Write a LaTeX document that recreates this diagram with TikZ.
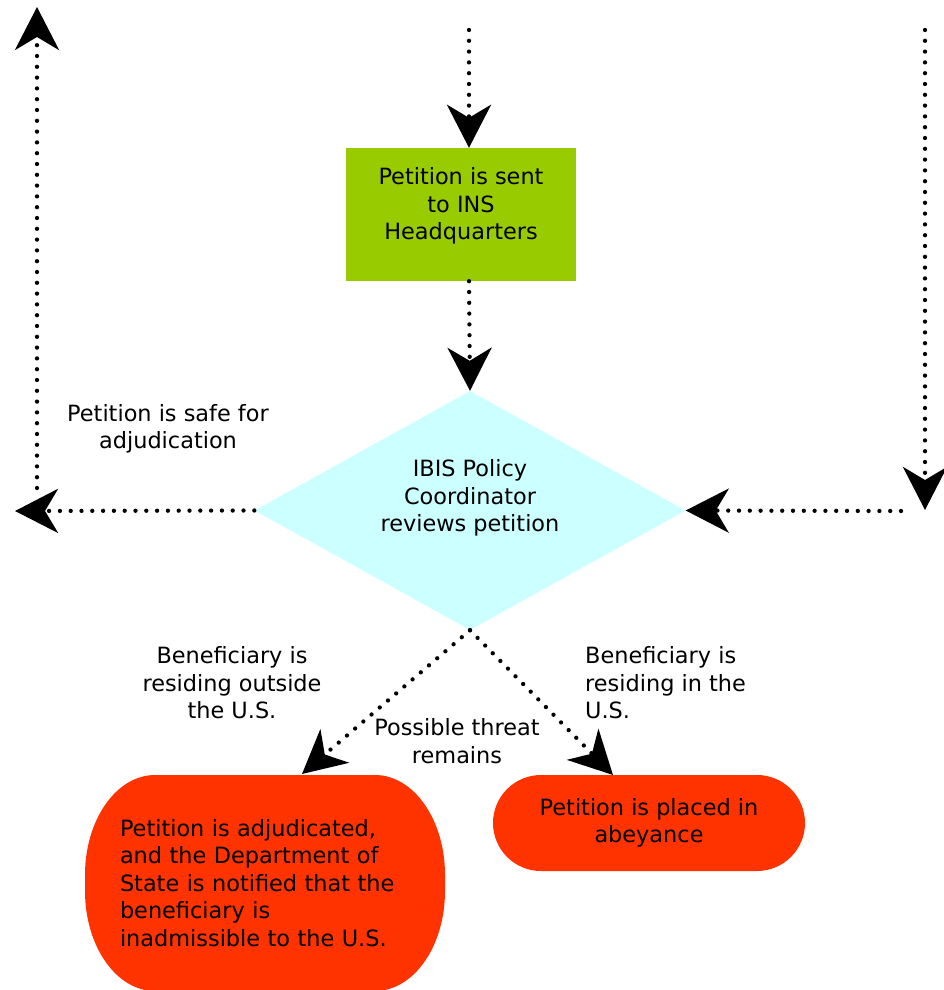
\documentclass[tikz,border=0pt]{standalone}
\usepackage{fontspec}
\setmainfont{DejaVu Sans}
\usetikzlibrary{shapes.geometric,arrows.meta}
\definecolor{sentgreen}{HTML}{99CC00}
\definecolor{reviewcyan}{HTML}{CCFFFF}
\definecolor{endred}{HTML}{FF3300}
\begin{document}
\begin{tikzpicture}[x=1pt,y=-1pt,
  flow/.style={line width=4.3pt,line cap=round,dash pattern=on 0pt off 10.8pt,
    -{Stealth[length=43pt,width=44pt,inset=13pt]}},
  lbl/.style={font=\fontsize{22.4}{27.5}\selectfont,align=center,inner sep=0pt}]
\useasboundingbox (0,0) rectangle (944,990);
% boxes
\node[lbl,fill=sentgreen,minimum width=230pt,minimum height=133pt,
  execute at end node={\rule[-22pt]{0pt}{22pt}}] (sent) at (461,214.5) {Petition is sent\\to INS\\Headquarters};
\node[lbl,diamond,aspect=1.8,fill=reviewcyan,minimum width=431pt,minimum height=239pt,
  execute at end node={\rule[-30pt]{0pt}{30pt}}] (review) at (470,510.5) {IBIS Policy\\Coordinator\\reviews petition};
\node[lbl,align=left,text width=290pt,fill=white,minimum width=360pt,minimum height=216pt,
  path picture={
    \fill[endred] ([xshift=70pt]path picture bounding box.north west)
      -- ([xshift=-70pt]path picture bounding box.north east)
      arc[start angle=90,end angle=0,x radius=70pt,y radius=100pt]
      -- ([yshift=100pt]path picture bounding box.south east)
      arc[start angle=0,end angle=-90,x radius=70pt,y radius=100pt]
      -- ([xshift=70pt]path picture bounding box.south west)
      arc[start angle=-90,end angle=-180,x radius=70pt,y radius=100pt]
      -- ([yshift=-100pt]path picture bounding box.north west)
      arc[start angle=180,end angle=90,x radius=70pt,y radius=100pt] -- cycle;
  }] (adj) at (265,883)
  {Petition is adjudicated,\\and the Department of\\State is notified that the\\beneficiary is\\inadmissible to the U.S.};
\node[lbl,fill=endred,rounded corners=48pt,minimum width=312pt,minimum height=96pt] (abey) at (649,823) {Petition is placed in\\abeyance};
% loose ends
\coordinate (src) at (469,30);
\coordinate (safe) at (15,511);
\coordinate (safeup) at (37,488);
\coordinate (safetop) at (37,7);
\coordinate (back) at (925,30);
\coordinate (backend) at (925,510);
\coordinate (backin) at (901,511);
\coordinate (adjin) at (302,774);
\coordinate (abeyin) at (613,775);
% connectors
\path[draw,flow] (src) -- (src |- sent.north);
\path[draw,flow] (src |- sent.south) -- (review.north);
\path[draw,flow] (review.west) -- (safe);
\path[draw,flow] (safeup) -- (safetop);
\path[draw,flow] (back) -- (backend);
\path[draw,flow] (backin) -- (review.east);
\path[draw,flow] (review.south) -- (adjin);
\path[draw,flow] (review.south) -- (abeyin);
% labels
\node[lbl] (safelbl) at (168,429) {Petition is safe for\\adjudication};
\node[lbl] (outlbl) at (232,683) {Beneficiary is\\residing outside\\the U.S.};
\node[lbl,align=left,anchor=west] (inlbl) at (585,683) {Beneficiary is\\residing in the\\U.S.};
\node[lbl] (threatlbl) at (457,741) {Possible threat\\remains};
\end{tikzpicture}
\end{document}
